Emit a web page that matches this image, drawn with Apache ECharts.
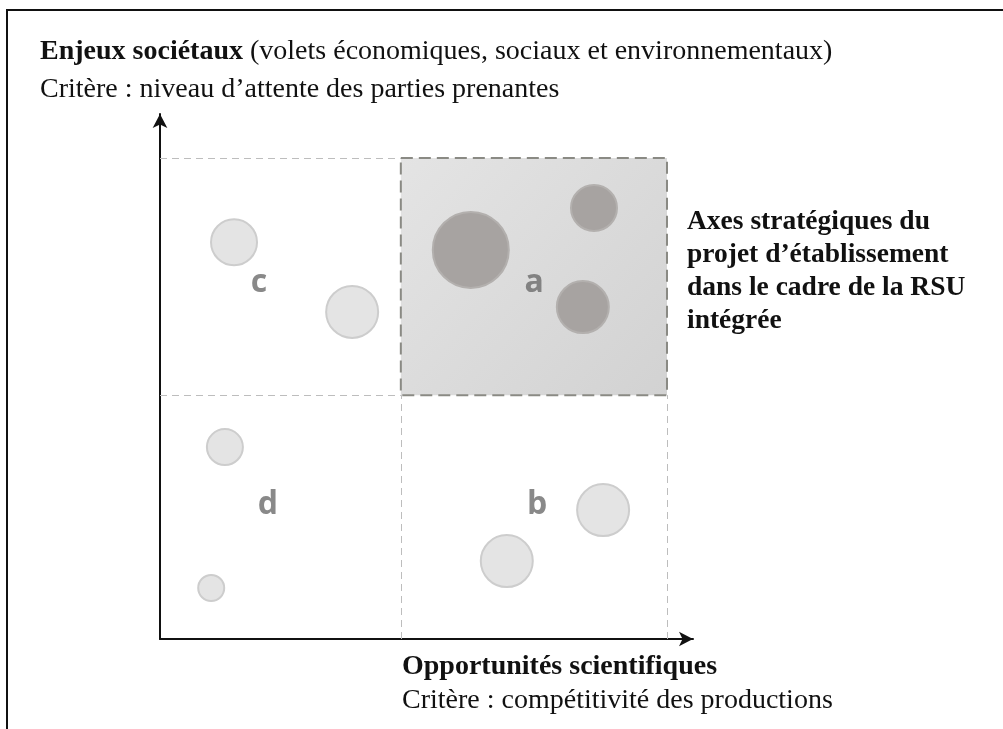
<!DOCTYPE html>
<html>
<head>
<meta charset="utf-8">
<script src="https://cdn.jsdelivr.net/npm/echarts@6/dist/echarts.min.js"></script>
<style>html,body{margin:0;padding:0;background:#fff}#c{width:1003px;height:729px}</style>
</head>
<body>
<div id="c"></div>
<script>
// Quadrant boundaries (data units)
const xSplit = 47.5;
const ySplit = 50.7;
const axisMax = 100;
// Bubbles: [x, y, diameter]
const bubblesLight = [[14.6, 82.5, 46], [37.9, 68.0, 52], [12.8, 39.9, 36], [10.1, 10.6, 26], [68.4, 16.2, 52], [87.4, 26.8, 52]];
const bubblesDark = [[61.3, 80.9, 76], [85.6, 89.6, 46], [83.4, 69.0, 52]];
// Quadrant letters
const letterNames = ['c', 'a', 'd', 'b'];
const letterPos = [[19.5, 74.0], [73.8, 74.0], [21.3, 27.9], [74.4, 27.9]];
// Texts
const yTitleBold = 'Enjeux sociétaux';
const yTitleRest = ' (volets économiques, sociaux et environnementaux)';
const yCriterion = 'Critère : niveau d’attente des parties prenantes';
const xTitle = 'Opportunités scientifiques';
const xCriterion = 'Critère : compétitivité des productions';
const sideLines = ['Axes stratégiques du', 'projet d’établissement', 'dans le cadre de la RSU', 'intégrée'];

const chart = echarts.init(document.getElementById('c'), null, {renderer: 'canvas'});
const serif = '"Liberation Serif", "DejaVu Serif", serif';
const lightDash = {color: '#bdbdbd', width: 1, type: [7, 5]};

chart.setOption({
  animation: false,
  grid: {left: 160, right: 310, top: 114, bottom: 90},
  xAxis: {
    type: 'value', min: 0, max: 105.13,
    axisLine: {show: true, lineStyle: {color: '#111', width: 2}, symbol: ['none', 'arrow'], symbolSize: [11, 14], symbolOffset: [0, 0]},
    axisTick: {show: false}, axisLabel: {show: false}, splitLine: {show: false}
  },
  yAxis: {
    type: 'value', min: 0, max: 109.15,
    axisLine: {show: true, lineStyle: {color: '#111', width: 2}, symbol: ['none', 'arrow'], symbolSize: [11, 14], symbolOffset: [0, 0]},
    axisTick: {show: false}, axisLabel: {show: false}, splitLine: {show: false}
  },
  series: [
    {
      type: 'scatter', data: [], z: 1,
      markArea: {
        silent: true,
        itemStyle: {
          color: new echarts.graphic.LinearGradient(0, 0, 1, 1, [
            {offset: 0, color: '#e4e4e4'}, {offset: 1, color: '#d2d2d2'}
          ]),
          borderColor: '#8a8a84', borderWidth: 2, borderType: [12, 6]
        },
        data: [[{coord: [xSplit, axisMax]}, {coord: [axisMax, ySplit]}]]
      },
      markLine: {
        silent: true, symbol: 'none', label: {show: false},
        lineStyle: lightDash,
        data: [
          [{coord: [0, axisMax]}, {coord: [xSplit, axisMax]}],
          [{coord: [0, ySplit]}, {coord: [xSplit, ySplit]}],
          [{coord: [xSplit, 0]}, {coord: [xSplit, ySplit]}],
          [{coord: [axisMax, 0]}, {coord: [axisMax, ySplit]}]
        ]
      }
    },
    {
      type: 'scatter', z: 3,
      data: bubblesLight,
      symbolSize: d => d[2],
      itemStyle: {color: '#e4e4e4', borderColor: '#cdcdcd', borderWidth: 2, opacity: 1}
    },
    {
      type: 'scatter', z: 3,
      data: bubblesDark,
      symbolSize: d => d[2],
      itemStyle: {color: '#a7a3a1', borderColor: '#b3b0ae', borderWidth: 2, opacity: 1}
    },
    {
      type: 'scatter', z: 4,
      data: letterPos.map((p, i) => ({value: p, name: letterNames[i]})),
      symbolSize: 0,
      label: {show: true, position: 'inside', formatter: p => p.name,
        fontFamily: '"Open Sans", sans-serif', fontSize: 32, fontWeight: 'bold', color: '#6c6c6c'}
    }
  ],
  graphic: [
    {type: 'polyline', shape: {points: [[7, 729], [7, 10], [1003, 10]]}, style: {stroke: '#111', lineWidth: 2, fill: null}},
    {type: 'text', left: 40, top: 38, style: {
      text: '{b|' + yTitleBold + '}{n|' + yTitleRest + '}',
      rich: {b: {fontFamily: serif, fontSize: 28, fontWeight: 'bold', fill: '#111'}, n: {fontFamily: serif, fontSize: 28, fill: '#111'}}
    }},
    {type: 'text', left: 40, top: 76, style: {text: yCriterion, font: '28px ' + serif, fill: '#111'}},
    {type: 'text', left: 402, top: 653, style: {text: xTitle, font: 'bold 28px ' + serif, fill: '#111'}},
    {type: 'text', left: 402, top: 687, style: {text: xCriterion, font: '28px ' + serif, fill: '#111'}},
    {type: 'text', left: 687, top: 205, style: {text: sideLines.join('\n'), font: 'bold 27.5px ' + serif, lineHeight: 33, fill: '#111'}}
  ]
});
</script>
</body>
</html>
